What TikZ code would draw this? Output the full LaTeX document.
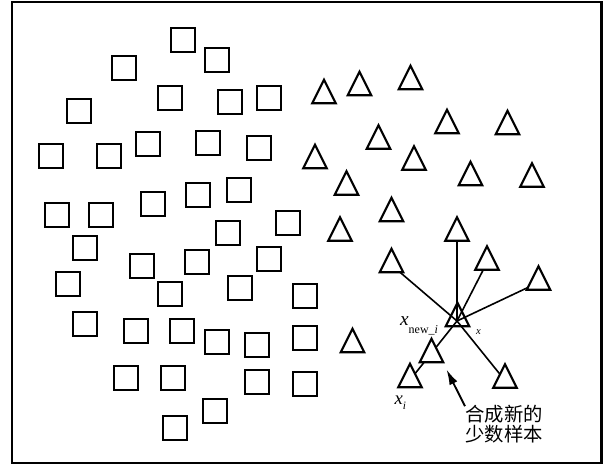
\documentclass[tikz,border=0pt]{standalone}
\usepackage{fontspec}
\setmainfont{Liberation Serif}
\newfontfamily\cjk{Noto Sans CJK SC}
\usetikzlibrary{shapes.geometric,arrows.meta}
\tikzset{
  sq/.style={draw, rectangle, line width=1.7pt, minimum size=18.2pt, inner sep=0pt, outer sep=0pt},
  tri/.style={draw, isosceles triangle, isosceles triangle stretches, shape border rotate=90,
    line width=1.65pt, minimum width=17.6pt, minimum height=17.6pt, inner sep=0pt, outer sep=0pt},
  wtri/.style={tri, fill=white},
  link/.style={line width=1.2pt},
  lbl/.style={inner sep=0pt, outer sep=0pt}
}
\begin{document}
\begin{tikzpicture}[x=0.75pt,y=-0.75pt]
\useasboundingbox (0,0) rectangle (608,466);
\draw[line width=1.75pt] (12,2) rectangle (601.5,463);
% squares
\foreach \px/\py [count=\i] in {
 183/40, 217/60, 124/68, 170/98, 230/102, 269/98, 79/111, 51/156, 109/156, 148/144,
 208/143, 259/148, 57/215, 101/215, 153/204, 198/195, 239/190, 228/233, 288/223, 85/248,
 142/266, 197/262, 269/259, 68/284, 170/294, 240/288, 305/296, 85/324, 136/331, 182/331,
 217/342, 257/345, 305/338, 126/378, 173/378, 257/382, 305/384, 215/411, 175/428}
 \node[sq] (s\i) at (\px,\py) {};
% triangles
\foreach \px/\py [count=\i] in {
 324/96, 359.5/88, 410.5/82, 447/126, 507.5/127, 378.5/141.5, 315/161, 414/162.5,
 470.5/178, 532/179.5, 346.5/187.5, 391.5/214, 340/233.5, 352.5/345}
 \node[tri] (t\i) at (\px,\py) {};
% neighbours
\node[wtri] (n1) at (457,233.5) {};
\node[wtri] (n2) at (391.5,265) {};
\node[wtri] (n3) at (487,262.5) {};
\node[wtri] (n4) at (538.5,282.5) {};
\node[wtri] (xi) at (410,380) {};
\node[wtri] (n5) at (505,380.5) {};
\node[tri] (xc) at (457.5,319) {};
\coordinate (x) at (457,321);
\foreach \n in {n1,n2,n3,n4,n5,xi} \draw[link] (x) -- (\n);
% synthetic sample
\node[wtri] (syn) at (431.5,355) {};
% labels
\node[lbl, anchor=base east] (lnew) at (438,326)
  {\fontsize{14.5pt}{14.5pt}\selectfont\textit{x}\raisebox{-5.5pt}{\fontsize{9pt}{9pt}\selectfont new\_\textit{i}}};
\node[lbl, anchor=base west] (lx) at (476,335) {\fontsize{8pt}{8pt}\selectfont\textit{x}};
\node[lbl, anchor=base west] (lxi) at (394.5,405)
  {\fontsize{14pt}{14pt}\selectfont\textit{x}\raisebox{-3.5pt}{\fontsize{8.5pt}{8.5pt}\selectfont\textit{i}}};
\node[lbl, anchor=base west] (cn1) at (465.5,421.5) {\cjk\fontsize{14.5pt}{14.5pt}\selectfont 合成新的};
\node[lbl, anchor=base west] (cn2) at (465.5,442) {\cjk\fontsize{14.5pt}{14.5pt}\selectfont 少数样本};
\coordinate (tip) at (446.5,369.5);
\draw[line width=1.4pt, -{Latex[length=11.5pt,width=6.5pt]}] (cn1.north west) ++(-0.5,1) -- (tip);
\end{tikzpicture}
\end{document}
